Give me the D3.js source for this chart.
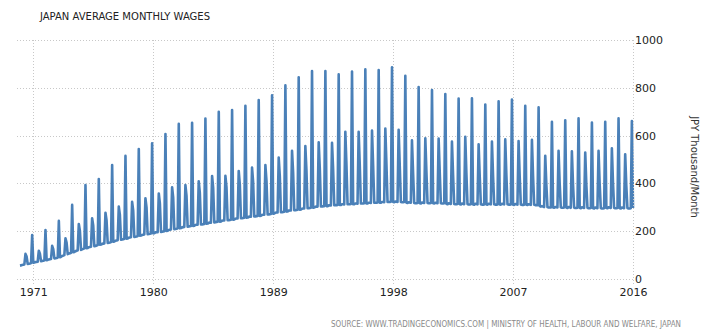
<!DOCTYPE html>
<html>
<head>
<meta charset="utf-8">
<script src="https://cdn.jsdelivr.net/npm/d3@7"></script>
<style>
  html, body { margin: 0; padding: 0; background: #fff; }
  svg { display: block; }
  text { font-family: Tahoma, "DejaVu Sans", "Liberation Sans", sans-serif; }
</style>
</head>
<body>
<svg id="chart" width="721" height="334"></svg>
<script>
// Average monthly wages, JPY thousand per month, monthly from Jan 1970 (one row per year, Jan..Dec)
const wages1970s = [
  56, 57, 59, 60, 61, 105, 94, 63, 64, 65, 67, 184,
  68, 69, 71, 71, 72, 118, 106, 74, 75, 76, 78, 205,
  79, 80, 82, 83, 84, 139, 125, 86, 87, 88, 90, 243,
  91, 93, 96, 98, 100, 170, 152, 104, 106, 108, 110, 310,
  112, 113, 116, 118, 120, 230, 202, 122, 124, 126, 128, 393,
  129, 130, 133, 134, 135, 254, 224, 137, 138, 140, 142, 418,
  143, 144, 147, 148, 149, 277, 245, 151, 152, 153, 155, 477,
  156, 157, 160, 161, 162, 303, 268, 164, 165, 166, 168, 515,
  169, 170, 173, 174, 175, 323, 286, 176, 177, 178, 180, 544,
  181, 182, 184, 185, 186, 338, 300, 187, 188, 189, 190, 568
];
const wages1980s = [
  191, 192, 195, 196, 196, 358, 316, 197, 198, 199, 200, 607,
  201, 202, 205, 206, 207, 384, 340, 208, 209, 210, 212, 649,
  212, 213, 216, 217, 218, 393, 348, 219, 220, 221, 222, 654,
  222, 223, 226, 227, 227, 409, 360, 228, 228, 229, 230, 671,
  231, 232, 235, 236, 236, 431, 380, 237, 238, 239, 240, 700,
  240, 241, 244, 245, 245, 432, 383, 246, 246, 247, 248, 707,
  248, 249, 252, 253, 253, 452, 395, 254, 254, 255, 256, 725,
  256, 257, 260, 261, 261, 466, 405, 262, 262, 263, 264, 749,
  264, 265, 268, 269, 269, 477, 410, 270, 270, 271, 272, 769,
  273, 274, 277, 278, 278, 508, 430, 279, 279, 280, 281, 810
];
const wages1990s = [
  282, 283, 286, 287, 287, 536, 445, 288, 288, 289, 290, 844,
  290, 291, 294, 295, 295, 556, 455, 296, 296, 297, 298, 870,
  298, 299, 302, 303, 303, 572, 462, 304, 304, 304, 305, 870,
  305, 305, 308, 308, 308, 570, 460, 309, 309, 309, 310, 856,
  310, 310, 313, 313, 312, 616, 480, 313, 313, 313, 314, 868,
  313, 313, 316, 316, 315, 616, 478, 316, 316, 316, 317, 877,
  316, 316, 319, 319, 318, 621, 478, 319, 319, 319, 320, 874,
  319, 319, 322, 322, 321, 630, 482, 322, 322, 322, 323, 886,
  322, 321, 324, 323, 322, 624, 475, 322, 321, 321, 322, 850,
  319, 318, 321, 320, 319, 580, 447, 318, 317, 317, 318, 803
];
const wages2000s = [
  317, 316, 320, 319, 318, 589, 450, 318, 317, 317, 318, 791,
  317, 316, 319, 318, 317, 588, 447, 317, 316, 316, 317, 774,
  315, 313, 317, 316, 314, 575, 438, 314, 313, 313, 314, 755,
  313, 312, 316, 315, 313, 595, 445, 314, 312, 312, 313, 756,
  312, 311, 315, 314, 312, 564, 430, 313, 311, 311, 312, 730,
  312, 311, 315, 314, 312, 575, 433, 313, 311, 311, 312, 744,
  312, 311, 315, 314, 312, 584, 437, 313, 311, 311, 312, 751,
  311, 310, 314, 313, 311, 577, 432, 312, 310, 310, 311, 725,
  311, 310, 313, 312, 310, 582, 433, 311, 309, 309, 309, 718,
  305, 303, 305, 303, 301, 516, 395, 301, 299, 299, 299, 658
];
const wages2010s = [
  299, 298, 301, 300, 299, 536, 400, 300, 298, 298, 299, 664,
  299, 297, 301, 300, 298, 534, 398, 299, 297, 297, 298, 672,
  298, 296, 300, 299, 297, 529, 395, 298, 296, 296, 297, 655,
  296, 295, 299, 298, 296, 536, 398, 297, 295, 295, 296, 658,
  297, 296, 300, 299, 297, 547, 405, 298, 296, 296, 297, 672,
  296, 295, 299, 298, 296, 522, 392, 297, 295, 295, 296, 661,
  297
];
const startYear = 1970;
const xTickYears = [1971, 1980, 1989, 1998, 2007, 2016];
const yTickValues = [0, 200, 400, 600, 800, 1000];

const titleText = "JAPAN AVERAGE MONTHLY WAGES";
const unitText = "JPY Thousand/Month";
const sourceText = "SOURCE: WWW.TRADINGECONOMICS.COM | MINISTRY OF HEALTH, LABOUR AND WELFARE, JAPAN";

const values = [].concat(wages1970s, wages1980s, wages1990s, wages2000s, wages2010s);
const series = values.map((v, i) => ({ date: new Date(startYear, i, 1), value: v }));

const svg = d3.select("#chart");

const x = d3.scaleTime()
  .domain([new Date(1971, 0, 1), new Date(2016, 0, 1)])
  .range([33.3, 633]);
const y = d3.scaleLinear()
  .domain([0, 1000])
  .range([279, 40]);

const plotLeft = 17, plotRight = 633;
const gridColor = "#c8c8c8";

// horizontal grid
svg.append("g")
  .selectAll("line")
  .data(yTickValues)
  .join("line")
  .attr("x1", plotLeft)
  .attr("x2", plotRight)
  .attr("y1", d => Math.round(y(d)) + 0.5)
  .attr("y2", d => Math.round(y(d)) + 0.5)
  .attr("stroke", gridColor)
  .attr("stroke-width", 1)
  .attr("stroke-dasharray", "1,2");

// vertical grid at year ticks
svg.append("g")
  .selectAll("line")
  .data(xTickYears)
  .join("line")
  .attr("x1", d => Math.round(x(new Date(d, 0, 1))) + 0.5)
  .attr("x2", d => Math.round(x(new Date(d, 0, 1))) + 0.5)
  .attr("y1", y(1000))
  .attr("y2", 284)
  .attr("stroke", gridColor)
  .attr("stroke-width", 1)
  .attr("stroke-dasharray", "1,2");

// data line
const line = d3.line()
  .x(d => x(d.date))
  .y(d => y(d.value));

svg.append("path")
  .datum(series)
  .attr("d", line)
  .attr("fill", "none")
  .attr("stroke", "#4a80b8")
  .attr("stroke-width", 2.6)
  .attr("stroke-linejoin", "round");

// x axis labels
const xAxis = d3.axisBottom(x)
  .tickValues(xTickYears.map(yr => new Date(yr, 0, 1)))
  .tickFormat(d3.timeFormat("%Y"))
  .tickSize(0)
  .tickPadding(0);
const gx = svg.append("g").attr("transform", "translate(0,288)").call(xAxis);
gx.select(".domain").remove();
gx.selectAll("text")
  .attr("dy", "0.71em")
  .attr("fill", "#222")
  .style("font-size", "11px");

// right y axis labels
const yAxis = d3.axisRight(y)
  .tickValues(yTickValues)
  .tickFormat(d3.format("d"))
  .tickSize(0)
  .tickPadding(0);
const gy = svg.append("g").attr("transform", "translate(635,0)").call(yAxis);
gy.select(".domain").remove();
gy.selectAll("text")
  .attr("fill", "#222")
  .style("font-size", "11px");

// right axis vertical rule
svg.append("line")
  .attr("x1", plotRight + 0.5).attr("x2", plotRight + 0.5)
  .attr("y1", y(1000)).attr("y2", y(0))
  .attr("stroke", gridColor)
  .attr("stroke-dasharray", "1,2");

// unit label
svg.append("text")
  .attr("transform", "translate(694,167) rotate(90)")
  .attr("text-anchor", "middle")
  .attr("dy", "0.35em")
  .attr("fill", "#333")
  .style("font-size", "10px")
  .text(unitText);

// title
svg.append("text")
  .attr("x", 40)
  .attr("y", 20)
  .attr("fill", "#222")
  .style("font-size", "11px")
  .attr("textLength", 170)
  .attr("lengthAdjust", "spacingAndGlyphs")
  .text(titleText);

// source note
svg.append("text")
  .attr("x", 681)
  .attr("y", 327)
  .attr("text-anchor", "end")
  .attr("fill", "#8a8a8a")
  .style("font-size", "8px")
  .attr("textLength", 350)
  .attr("lengthAdjust", "spacingAndGlyphs")
  .text(sourceText);
</script>
</body>
</html>
